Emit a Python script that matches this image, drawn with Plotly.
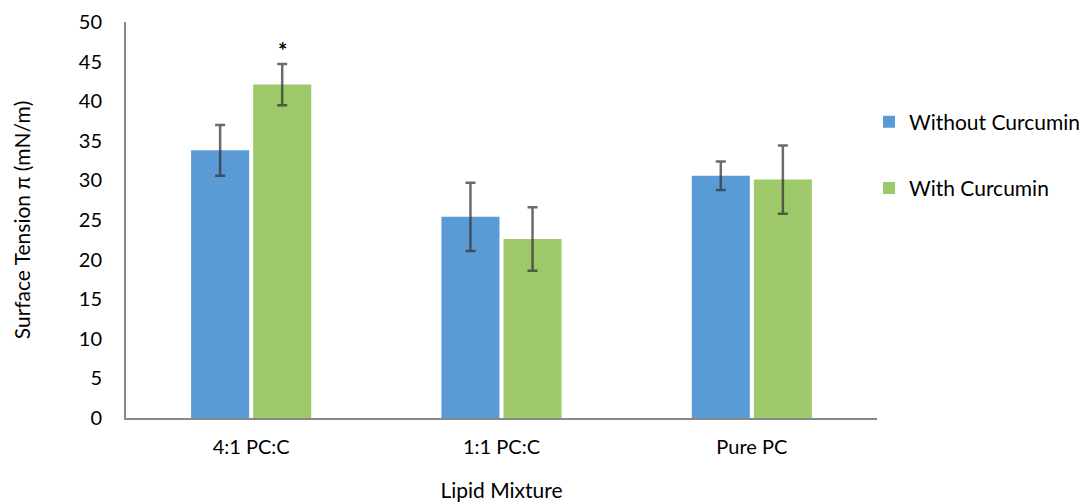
import plotly.graph_objects as go

categories = ["4:1 PC:C", "1:1 PC:C", "Pure PC"]
without_vals = [33.8, 25.4, 30.6]
without_err = [3.2, 4.3, 1.8]
with_vals = [42.1, 22.6, 30.1]
with_err = [2.6, 4.0, 4.3]
y_ticks = [0, 5, 10, 15, 20, 25, 30, 35, 40, 45, 50]
star_labels = ["*", "", ""]

FONT = "Lato"
err_style = dict(type="data", visible=True, color="rgba(50,50,50,0.72)", thickness=2.5, width=5)

fig = go.Figure()
fig.add_trace(go.Bar(
    x=categories, y=without_vals, name="Without Curcumin",
    marker=dict(color="#5B9BD5", line=dict(width=0)),
    error_y=dict(array=without_err, **err_style),
    legendgroup="a",
))
fig.add_trace(go.Bar(
    x=categories, y=with_vals, name="With Curcumin",
    marker=dict(color="#9DC96B", line=dict(width=0)),
    error_y=dict(array=with_err, **err_style),
    legendgroup="b",
))

for c, v, e, s in zip(categories, with_vals, with_err, star_labels):
    if s:
        fig.add_annotation(x=c, y=v + e, text="<b>" + s + "</b>", showarrow=False, xshift=31,
                           yshift=-2, yanchor="bottom",
                           font=dict(family=FONT, size=22, color="#000"))

fig.update_layout(
    width=1090, height=504,
    margin=dict(l=126, r=213, t=22, b=86, autoexpand=False),
    paper_bgcolor="white", plot_bgcolor="white",
    barmode="group", bargap=0.504, bargroupgap=0.065,
    font=dict(family=FONT, size=20, color="#000"),
    showlegend=True,
    legend=dict(x=1.0 - 8 / 751, y=0.664, xanchor="left", yanchor="middle", xref="paper",
                tracegroupgap=36, font=dict(family=FONT, size=21, color="#000"),
                itemwidth=30, bgcolor="rgba(0,0,0,0)"),
    xaxis=dict(
        showline=True, linecolor="#888", linewidth=2, showgrid=False,
        ticks="", tickfont=dict(family=FONT, size=20), ticklabelstandoff=10,
        automargin=False,
        title=dict(text="Lipid Mixture", font=dict(family=FONT, size=21), standoff=26),
    ),
    yaxis=dict(
        range=[0, 50], tickvals=y_ticks, showline=True, linecolor="#888", linewidth=2,
        showgrid=False, zeroline=False, ticks="", ticklabelstandoff=18,
        tickfont=dict(family=FONT, size=20), automargin=False,
        title=dict(text="Surface Tension π (mN/m)", font=dict(family=FONT, size=21), standoff=42),
    ),
)

fig.write_html("out.html", config={"displayModeBar": False},
               post_script="document.body.style.margin='0px';")
